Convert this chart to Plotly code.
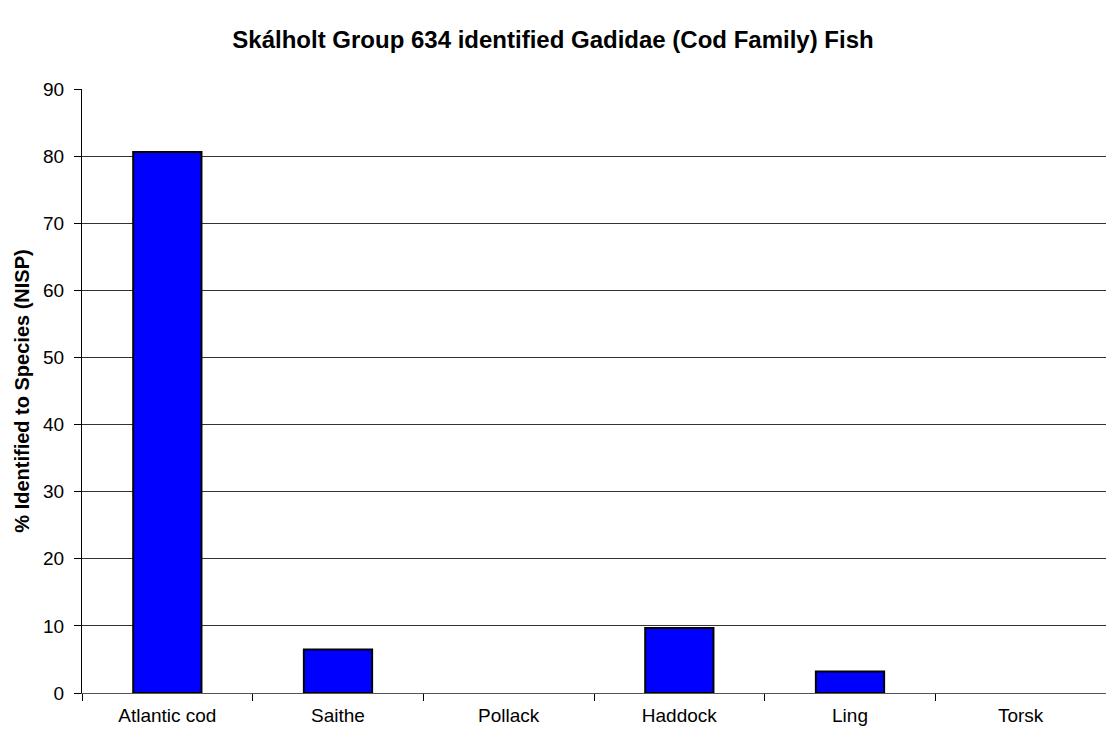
import plotly.graph_objects as go

categories = ["Atlantic cod", "Saithe", "Pollack", "Haddock", "Ling", "Torsk"]
values = [80.6, 6.5, 0, 9.7, 3.2, 0]
y_ticks = [0, 10, 20, 30, 40, 50, 60, 70, 80, 90]

line_widths = [2 if v > 0 else 0 for v in values]

fig = go.Figure(go.Bar(
    x=categories, y=values, width=0.4,
    marker=dict(color="#0000FF", line=dict(color="black", width=line_widths)),
))
font = "Liberation Sans, Arial, sans-serif"
fig.update_layout(
    width=1106, height=735,
    margin=dict(l=82, r=0, t=89, b=42),
    paper_bgcolor="white", plot_bgcolor="white",
    showlegend=False,
    font=dict(family=font, size=19, color="black"),
    title=dict(text="<b>Skálholt Group 634 identified Gadidae (Cod Family) Fish</b>",
               x=0.5, xanchor="center", y=1 - 40 / 735, yanchor="middle",
               font=dict(family=font, size=24, color="black")),
)
fig.update_xaxes(
    type="category", tickson="boundaries", ticks="outside", ticklen=7,
    tickcolor="black", showline=True, linecolor="#555555", linewidth=1,
    showgrid=False, tickfont=dict(size=19), range=[-0.5, 5.5],
    ticklabelstandoff=5,
)
fig.update_yaxes(
    range=[0, 90], tickvals=y_ticks, ticks="outside", ticklen=7, tickcolor="black",
    showline=True, linecolor="black", linewidth=1,
    showgrid=True, gridcolor="#333333", gridwidth=1, zeroline=False,
    tickfont=dict(size=19), ticklabelstandoff=6,
    title=dict(text="<b>% Identified to Species (NISP)</b>", font=dict(size=20), standoff=8),
)
fig.write_html("out.html", config={"displayModeBar": False})
with open("out.html", encoding="utf-8") as f:
    html = f.read()
html = html.replace("<head>", "<head><style>html,body{margin:0;padding:0;overflow:hidden;}</style>", 1)
with open("out.html", "w", encoding="utf-8") as f:
    f.write(html)
